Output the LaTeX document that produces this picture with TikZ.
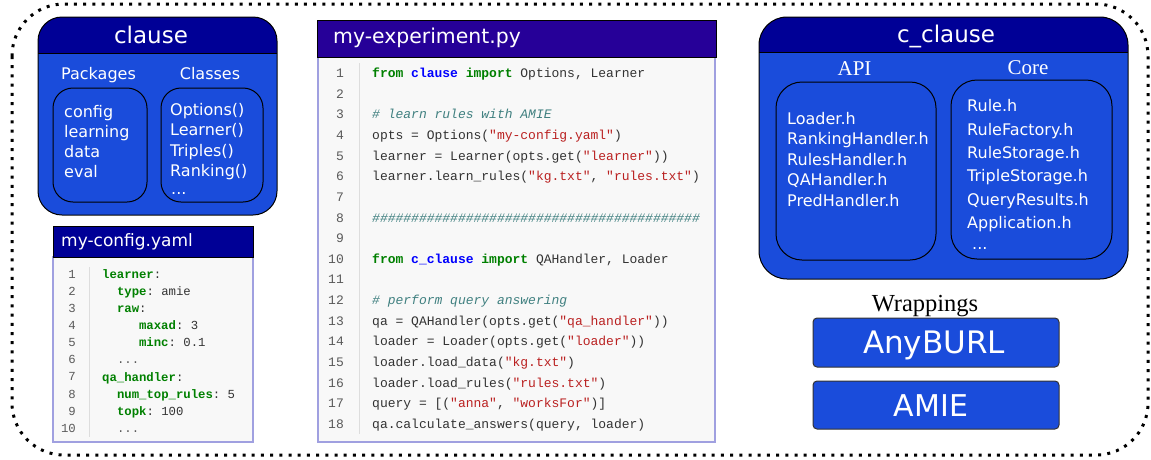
\documentclass[tikz,border=0pt]{standalone}
\usepackage{fontspec}
\setmainfont{DejaVu Sans}
\newfontfamily\serifw{Liberation Serif}
\newfontfamily\codef{Liberation Mono}
\definecolor{hdblue}{RGB}{0,0,150}
\definecolor{hdindigo}{RGB}{38,0,152}
\definecolor{bodyblue}{RGB}{26,76,219}
\definecolor{codebg}{RGB}{248,248,248}
\definecolor{lavender}{RGB}{160,160,224}
\definecolor{kwgreen}{RGB}{0,128,0}
\definecolor{modblue}{RGB}{0,0,255}
\definecolor{cmteal}{RGB}{64,128,128}
\definecolor{strred}{RGB}{186,33,33}
\definecolor{codetxt}{RGB}{51,51,51}
\definecolor{numgray}{RGB}{90,90,90}
\definecolor{sepgray}{RGB}{221,221,221}
\newcommand\kwd[1]{\textcolor{kwgreen}{\textbf{#1}}}
\newcommand\mdl[1]{\textcolor{modblue}{\textbf{#1}}}
\newcommand\cmt[1]{\textcolor{cmteal}{\textit{#1}}}
\newcommand\str[1]{\textcolor{strred}{#1}}
\newcommand\dts[1]{\textcolor{numgray}{#1}}
\begin{document}
\frenchspacing
\begin{tikzpicture}[x=1pt,y=-1pt,
  every node/.style={inner sep=0pt},
  hdtext/.style={text=white,anchor=base,font=\fontsize{23}{27}\selectfont},
  sublbl/.style={text=white,anchor=base,font=\fontsize{16}{19}\selectfont},
  serlbl/.style={anchor=base,font=\serifw\fontsize{21}{25}\selectfont},
  item/.style={text=white,anchor=base west,font=\fontsize{16}{19}\selectfont},
  innerbox/.style={draw=black,line width=1pt,rounded corners=20pt},
  wrapbox/.style={fill=bodyblue,draw=black!80,line width=1pt,rounded corners=4pt},
  pycode/.style={anchor=base west,text=codetxt,font=\codef\fontsize{13}{15}\selectfont},
  pynum/.style={anchor=base east,text=numgray,font=\codef\fontsize{13}{15}\selectfont},
  ymcode/.style={anchor=base west,text=codetxt,font=\codef\fontsize{12.3}{14}\selectfont},
  ymnum/.style={anchor=base east,text=numgray,font=\codef\fontsize{12.3}{14}\selectfont},
  ]
\useasboundingbox (0,0) rectangle (1151,459);
\fill[white] (0,0) rectangle (1151,459);

% outer dotted frame
\draw[line width=3pt,dash pattern=on 3pt off 6.2pt,rounded corners=52pt] (12,4) rectangle (1148,455);

% ---------------- clause package box
\begin{scope}
\clip[rounded corners=24pt] (38,17) rectangle (277,215);
\fill[bodyblue] (38,17) rectangle (277,215);
\fill[hdblue] (38,17) rectangle (277,53);
\end{scope}
\draw[line width=1pt] (38,53) -- (277,53);
\draw[line width=1pt,rounded corners=24pt] (38,17) rectangle (277,215);
\node[hdtext] (clt) at (151,43) {clause};
\node[sublbl] (pkl) at (98.5,79) {Packages};
\node[sublbl] (cll) at (210,79) {Classes};
\draw[innerbox] (53,88) rectangle (147,202);
\draw[innerbox] (161,88) rectangle (263,202);
\node[item] (p1) at (64,117.5) {config};
\node[item] (p2) at (64,137.5) {learning};
\node[item] (p3) at (64,157.5) {data};
\node[item] (p4) at (64,177.5) {eval};
\node[item] (c1) at (170,115) {Options()};
\node[item] (c2) at (170,135.5) {Learner()};
\node[item] (c3) at (170,156) {Triples()};
\node[item] (c4) at (170,176.5) {Ranking()};
\node[item] (c5) at (171,194) {...};

% ---------------- c_clause box
\begin{scope}
\clip[rounded corners=28pt] (759,17) rectangle (1128,279);
\fill[bodyblue] (759,17) rectangle (1128,279);
\fill[hdblue] (759,17) rectangle (1128,52);
\end{scope}
\draw[line width=1pt] (759,52) -- (1128,52);
\draw[line width=1pt,rounded corners=28pt] (759,17) rectangle (1128,279);
\node[hdtext] (cct) at (946,42) {c\_clause};
\node[serlbl,text=white] (apil) at (854.5,75) {API};
\node[serlbl,text=white] (corel) at (1028,74) {Core};
\draw[innerbox,rounded corners=26pt] (776,82) rectangle (936,260);
\draw[innerbox,rounded corners=26pt] (951,80) rectangle (1112,259);
\node[item] (a1) at (787,124) {Loader.h};
\node[item] (a2) at (787,144.5) {RankingHandler.h};
\node[item] (a3) at (787,165) {RulesHandler.h};
\node[item] (a4) at (787,185.5) {QAHandler.h};
\node[item] (a5) at (787,206) {PredHandler.h};
\node[item] (k1) at (967,111.7) {Rule.h};
\node[item] (k2) at (967,135.1) {RuleFactory.h};
\node[item] (k3) at (967,158.5) {RuleStorage.h};
\node[item] (k4) at (967,181.9) {TripleStorage.h};
\node[item] (k5) at (967,205.3) {QueryResults.h};
\node[item] (k6) at (967,228.7) {Application.h};
\node[item] (k7) at (972,249) {...};

% ---------------- wrappings
\node[serlbl,font=\serifw\fontsize{24.5}{28}\selectfont] (wrl) at (925,311.7) {Wrappings};
\draw[wrapbox] (813,318) rectangle (1059,367);
\draw[wrapbox] (813,381) rectangle (1059,429);
\node[text=white,anchor=base,font=\fontsize{31}{35}\selectfont] (any) at (934,353.5) {AnyBURL};
\node[text=white,anchor=base,font=\fontsize{30}{34}\selectfont] (amie) at (931,416) {AMIE};

% ---------------- my-config.yaml
\fill[codebg] (53,257) rectangle (253,442);
\draw[lavender,line width=2pt] (53,257) rectangle (253,442);
\draw[black,line width=0.8pt,fill=hdblue] (53,226) rectangle (253,257);
\node[text=white,anchor=base west,font=\fontsize{17}{20}\selectfont] (cfgt) at (61,246.7) {my-config.yaml};
\draw[sepgray,line width=1pt] (89,267) -- (89,437);
\foreach \i in {1,...,10} {
  \node[ymnum] (yn\i) at (76,{278.3+17.11*(\i-1)}) {\i};
}
\node[ymcode] (y1) at (102,278.3) {\kwd{learner}:};
\node[ymcode] (y2) at (116.8,295.4) {\kwd{type}: amie};
\node[ymcode] (y3) at (116.8,312.5) {\kwd{raw}:};
\node[ymcode] (y4) at (138.9,329.6) {\kwd{maxad}: 3};
\node[ymcode] (y5) at (138.9,346.7) {\kwd{minc}: 0.1};
\node[ymcode] (y6) at (116.8,363.9) {\dts{...}};
\node[ymcode] (y7) at (102,381.0) {\kwd{qa\_handler}:};
\node[ymcode] (y8) at (116.8,398.1) {\kwd{num\_top\_rules}: 5};
\node[ymcode] (y9) at (116.8,415.2) {\kwd{topk}: 100};
\node[ymcode] (y10) at (116.8,432.3) {\dts{...}};

% ---------------- my-experiment.py
\fill[codebg] (318,57) rectangle (715,442);
\draw[lavender,line width=2pt] (318,57) rectangle (715,442);
\draw[black,line width=0.8pt,fill=hdindigo] (317,20) rectangle (716,57);
\node[text=white,anchor=base west,font=\fontsize{20.4}{24}\selectfont] (expt) at (333,43.3) {my-experiment.py};
\draw[sepgray,line width=1pt] (359,63) -- (359,434);
\foreach \i in {1,...,18} {
  \node[pynum] (pn\i) at (344,{77.7+20.62*(\i-1)}) {\i};
}
\node[pycode] (e1) at (372,77.7) {\kwd{from} \mdl{clause} \kwd{import} Options, Learner};
\node[pycode] (e3) at (372,118.9) {\cmt{\# learn rules with AMIE}};
\node[pycode] (e4) at (372,139.6) {opts = Options(\str{"my-config.yaml"})};
\node[pycode] (e5) at (372,160.2) {learner = Learner(opts.get(\str{"learner"}))};
\node[pycode] (e6) at (372,180.8) {learner.learn\_rules(\str{"kg.txt"}, \str{"rules.txt"})};
\node[pycode] (e8) at (372,222.0) {\cmt{\#\#\#\#\#\#\#\#\#\#\#\#\#\#\#\#\#\#\#\#\#\#\#\#\#\#\#\#\#\#\#\#\#\#\#\#\#\#\#\#\#\#}};
\node[pycode] (e10) at (372,263.3) {\kwd{from} \mdl{c\_clause} \kwd{import} QAHandler, Loader};
\node[pycode] (e12) at (372,304.5) {\cmt{\# perform query answering}};
\node[pycode] (e13) at (372,325.1) {qa = QAHandler(opts.get(\str{"qa\_handler"}))};
\node[pycode] (e14) at (372,345.7) {loader = Loader(opts.get(\str{"loader"}))};
\node[pycode] (e15) at (372,366.4) {loader.load\_data(\str{"kg.txt"})};
\node[pycode] (e16) at (372,387.0) {loader.load\_rules(\str{"rules.txt"})};
\node[pycode] (e17) at (372,407.6) {query = [(\str{"anna"}, \str{"worksFor"})]};
\node[pycode] (e18) at (372,428.3) {qa.calculate\_answers(query, loader)};
\end{tikzpicture}
\end{document}
